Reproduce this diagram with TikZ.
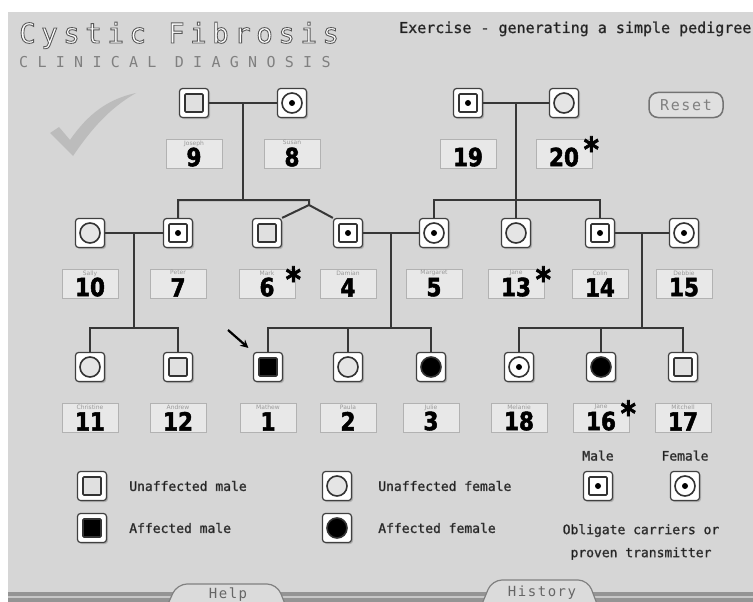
\documentclass[tikz,border=0pt]{standalone}
\usepackage{fontspec}
\setmainfont{DejaVu Sans}
\newfontfamily\monofont{DejaVu Sans Mono}
\newfontfamily\titlefont[LetterSpace=20]{DejaVu Sans Mono}
\newfontfamily\subtitlefont[LetterSpace=62]{DejaVu Sans Mono}
\newfontfamily\btnfont[LetterSpace=11]{DejaVu Sans Mono}
\newfontfamily\numfont[FakeStretch=0.86,FakeBold=2]{DejaVu Sans Bold}
\usetikzlibrary{positioning,shadows,arrows.meta,calc}

\definecolor{panel}{RGB}{214,214,214}
\definecolor{kinline}{RGB}{55,55,55}
\definecolor{tagfill}{RGB}{232,232,232}

% text drawn with a stroked rim: grey level, rim width, text
\newcommand{\halo}[3]{\special{pdf:literal 2 Tr #2 w #1 G}#3\special{pdf:literal 0 Tr}}

\tikzset{
  sym/.style={draw=black!75, line width=1.2pt, fill=white, rounded corners=3pt,
    minimum size=29pt, inner sep=0pt,
    drop shadow={shadow xshift=1.5pt, shadow yshift=-1.5pt, opacity=0.45}},
  glyph/.style={draw=black!80, line width=1.6pt, rounded corners=1pt},
  male/.style={sym, path picture={
    \draw[glyph, fill=#1] ([shift={(-9pt,-9pt)}]path picture bounding box.center)
      rectangle ++(18pt,18pt);}},
  male/.default=black!12,
  female/.style={sym, path picture={
    \draw[glyph, fill=#1] (path picture bounding box.center) circle[radius=10pt];}},
  female/.default=black!10,
  cmale/.style={sym, path picture={
    \draw[glyph, fill=white] ([shift={(-9pt,-9pt)}]path picture bounding box.center)
      rectangle ++(18pt,18pt);
    \fill[black] (path picture bounding box.center) circle[radius=3pt];}},
  cfemale/.style={sym, path picture={
    \draw[glyph, fill=white] (path picture bounding box.center) circle[radius=10pt];
    \fill[black] (path picture bounding box.center) circle[radius=3pt];}},
  kin/.style={draw=kinline, line width=2pt},
  proband/.style={-{Stealth[length=8pt,width=8pt]}, line width=2.2pt, shorten >=6pt},
  tagbox/.style={draw=black!30, line width=0.6pt, fill=tagfill,
    minimum width=56pt, minimum height=29pt, inner sep=0pt,
    drop shadow={shadow xshift=1pt, shadow yshift=-1pt, opacity=0.3}},
  tagname/.style={anchor=north, inner sep=0pt, text=black!40, font=\fontsize{6}{6}\selectfont},
  tagnum/.style={anchor=south, inner sep=0pt, font=\numfont\fontsize{25}{25}\selectfont},
  astx/.style={anchor=north, inner sep=0pt, font=\numfont\fontsize{34}{34}\selectfont},
  keytext/.style={inner sep=0pt, text=black!90, font=\monofont\fontsize{13}{23}\selectfont},
  tabshape/.style={fill=black!14, draw=black!50, line width=1.2pt, rounded corners=10pt},
  tabtext/.style={anchor=base, inner sep=0pt, text=black!60, font=\btnfont\fontsize{14}{14}\selectfont},
  checkmk/.style={fill=black!45, opacity=0.35}
}

% box under a symbol: symbol, box name, number, first name
\newcommand{\idbox}[4]{%
  \node[tagbox, below=21pt of #1] (#2) {};
  \node[tagname] (#2n) at ([yshift=-1.2pt]#2.north) {#4};
  \node[tagnum] (#2d) at ([yshift=2pt]#2.south) {#3};
}

\begin{document}
\begin{tikzpicture}[x=1pt, y=-1pt]
\clip (0,0) rectangle (753,602);
\fill[white] (0,0) rectangle (753,602);
\fill[panel] (8,12) rectangle (753,602);

% headings
\node[anchor=base west, inner sep=0pt, text=white, font=\titlefont\fontsize{27.5}{27.5}\selectfont] (title) at (19,43) {\halo{0.35}{0.9}{Cystic Fibrosis}};
\node[anchor=base west, inner sep=0pt, text=black!50, font=\subtitlefont\fontsize{15}{15}\selectfont] (subtitle) at (19,67) {CLINICAL DIAGNOSIS};
\node[anchor=base west, inner sep=0pt, text=black!90, font=\monofont\fontsize{15}{15}\selectfont] (exercise) at (399,33) {\halo{0.3}{0.3}{Exercise - generating a simple pedigree}};
\node[draw=black!55, line width=1.5pt, fill=black!12, rounded corners=9pt,
  minimum width=74pt, minimum height=25pt, text=black!50,
  font=\btnfont\fontsize{15}{15}\selectfont] (reset) at (686,105) {Reset};
\fill[checkmk] (50,133) -- (59,127) -- (70,140) .. controls (88,114) and (108,99) .. (136,93)
  .. controls (110,108) and (92,128) .. (73,156) -- cycle;

% generation I
\node[male] (p9) at (194,103) {};
\node[cfemale] (p8) at (292,103) {};
\node[cmale] (p19) at (468,103) {};
\node[female] (p20) at (564,103) {};

% generation II
\node[female] (p10) at (90,233) {};
\node[cmale] (p7) at (178,233) {};
\node[male] (p6) at (267,233) {};
\node[cmale] (p4) at (348,233) {};
\node[cfemale] (p5) at (434,233) {};
\node[female] (p13) at (516,233) {};
\node[cmale] (p14) at (600,233) {};
\node[cfemale] (p15) at (684,233) {};

% generation III
\node[female] (p11) at (90,367) {};
\node[male] (p12) at (178,367) {};
\node[male=black] (p1) at (268,367) {};
\node[female] (p2) at (348,367) {};
\node[female=black] (p3) at (431,367) {};
\node[cfemale] (p18) at (519,367) {};
\node[female=black] (p16) at (601,367) {};
\node[male] (p17) at (683,367) {};

% lines of descent
\coordinate (m98) at ($(p9)!.5!(p8)$);
\coordinate (s98) at (243,200);
\coordinate (tt) at (309,200);
\coordinate (tw) at (309,205);
\draw[kin] (p9) -- (p8);
\draw[kin] (m98) -- (s98);
\draw[kin] (p7.north) |- (tt) -- (tw) -- (p6.north east);
\draw[kin] (tw) -- (p4.north west);

\coordinate (m1920) at ($(p19)!.5!(p20)$);
\coordinate (s1920) at (516,200);
\draw[kin] (p19) -- (p20);
\draw[kin] (m1920) -- (p13.north);
\draw[kin] (p5.north) |- (s1920) -| (p14.north);

\coordinate (m107) at ($(p10)!.5!(p7)$);
\coordinate (s107) at (134,328);
\draw[kin] (p10) -- (p7);
\draw[kin] (m107) -- (s107);
\draw[kin] (p11.north) |- (s107) -| (p12.north);

\coordinate (m45) at ($(p4)!.5!(p5)$);
\coordinate (s45) at (391,328);
\draw[kin] (p4) -- (p5);
\draw[kin] (m45) -- (s45);
\draw[kin] (p1.north) |- (s45) -| (p3.north);
\draw[kin] (p2.north) -- (p2.north |- s45);

\coordinate (m1415) at ($(p14)!.5!(p15)$);
\coordinate (s1415) at (642,328);
\draw[kin] (p14) -- (p15);
\draw[kin] (m1415) -- (s1415);
\draw[kin] (p18.north) |- (s1415) -| (p17.north);
\draw[kin] (p16.north) -- (p16.north |- s1415);

\coordinate (pb) at (228,330);
\draw[proband] (pb) -- (p1.north west);

% number boxes
\idbox{p9}{l9}{9}{Joseph}
\idbox{p8}{l8}{8}{Susan}
\idbox{p19}{l19}{19}{}
\idbox{p20}{l20}{20}{}
\idbox{p10}{l10}{10}{Sally}
\idbox{p7}{l7}{7}{Peter}
\idbox{p6}{l6}{6}{Mark}
\idbox{p4}{l4}{4}{Damian}
\idbox{p5}{l5}{5}{Margaret}
\idbox{p13}{l13}{13}{Jane}
\idbox{p14}{l14}{14}{Colin}
\idbox{p15}{l15}{15}{Debbie}
\idbox{p11}{l11}{11}{Christine}
\idbox{p12}{l12}{12}{Andrew}
\idbox{p1}{l1}{1}{Mathew}
\idbox{p2}{l2}{2}{Paula}
\idbox{p3}{l3}{3}{Julie}
\idbox{p18}{l18}{18}{Melanie}
\idbox{p16}{l16}{16}{Jane}
\idbox{p17}{l17}{17}{Mitchell}

\node[astx] (a20) at ([xshift=-1pt,yshift=3pt]l20.north east) {*};
\node[astx] (a6) at ([xshift=-2pt,yshift=3pt]l6.north east) {*};
\node[astx] (a13) at ([xshift=-1pt,yshift=3pt]l13.north east) {*};
\node[astx] (a16) at ([xshift=-1pt,yshift=3pt]l16.north east) {*};

% key
\node[male] (k1) at (92,486) {};
\node[male=black] (k2) at (92,528) {};
\node[female] (k3) at (337,486) {};
\node[female=black] (k4) at (337,528) {};
\node[cmale] (k5) at (598,486) {};
\node[cfemale] (k6) at (685,486) {};
\node[keytext, right=22pt of k1] (k1t) {\halo{0.3}{0.3}{Unaffected male}};
\node[keytext, right=22pt of k2] (k2t) {\halo{0.3}{0.3}{Affected male}};
\node[keytext, right=26pt of k3] (k3t) {\halo{0.3}{0.3}{Unaffected female}};
\node[keytext, right=26pt of k4] (k4t) {\halo{0.3}{0.3}{Affected female}};
\node[keytext, above=10pt of k5] (k5t) {\halo{0.3}{0.3}{Male}};
\node[keytext, above=10pt of k6] (k6t) {\halo{0.3}{0.3}{Female}};
\node[keytext, align=center] (k7t) at (641,542) {\halo{0.3}{0.3}{Obligate carriers or}\\\halo{0.3}{0.3}{proven transmitter}};

% bottom bar and tabs
\fill[black!42] (8,592) rectangle (753,602);
\fill[black!22] (8,595.5) rectangle (753,598);
\filldraw[tabshape] (168,604) -- (177,584) -- (277,584) -- (285,604);
\filldraw[tabshape] (482,604) -- (492,580) -- (588,580) -- (597,604);
\node[tabtext] (help) at (228,598) {Help};
\node[tabtext] (history) at (542,596) {History};
\end{tikzpicture}
\end{document}
